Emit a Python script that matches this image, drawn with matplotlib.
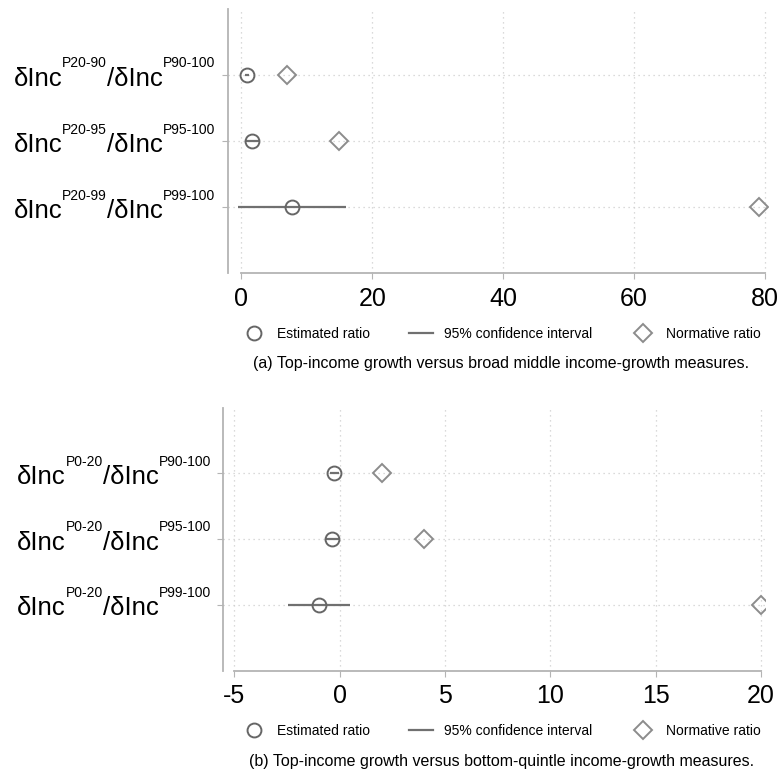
import matplotlib
matplotlib.use('Agg')
from matplotlib import pyplot as plt
from matplotlib.lines import Line2D
from matplotlib.transforms import offset_copy, blended_transform_factory

plt.rcParams['font.family'] = ['Liberation Sans', 'DejaVu Sans']

rows = [1, 2, 3]

# panel (a): P20-xx middle vs top groups
num_a = ['P20-90', 'P20-95', 'P20-99']
den_a = ['P90-100', 'P95-100', 'P99-100']
est_a = [0.85, 1.7, 7.7]
lo_a = [0.5, 0.75, -0.5]
hi_a = [1.2, 2.8, 16.0]
norm_a = [7, 15, 79]
xticks_a = [0, 20, 40, 60, 80]

# panel (b): bottom quintile vs top groups
num_b = ['P0-20', 'P0-20', 'P0-20']
den_b = ['P90-100', 'P95-100', 'P99-100']
est_b = [-0.25, -0.35, -1.0]
lo_b = [-0.45, -0.7, -2.45]
hi_b = [-0.05, 0.0, 0.5]
norm_b = [2, 4, 20]
xticks_b = [-5, 0, 5, 10, 15, 20]

leg_labels = ['Estimated ratio', '95% confidence interval', 'Normative ratio']

C_EST = '#666666'
C_CI = '#707070'
C_NORM = '#8c8c8c'
C_AX = '#b4b4b4'

fig = plt.figure(figsize=(7.8, 7.73), dpi=100)
renderer = fig.canvas.get_renderer()


def ratio_label(ax, y, num, den):
    # δInc^num / δInc^den, built right to left from the axis
    base = blended_transform_factory(ax.transAxes, ax.transData)
    parts = [('δInc', 18.5, 0), (num, 10, 13), ('/δInc', 18.5, 0), (den, 10, 13)]
    x = -9
    for txt, size, rise in reversed(parts):
        t = ax.text(0, y, txt, fontsize=size, ha='right', va='baseline',
                    transform=offset_copy(base, fig=fig, x=x, y=-7.5 + rise, units='points'))
        x -= t.get_window_extent(renderer).width * 72 / fig.dpi


def panel(rect, est, lo, hi, norm, num, den, xticks, xlim, leg_y, caption, cap_y):
    ax = fig.add_axes(rect)
    ax.hlines(rows, lo, hi, color=C_CI, lw=1.6, zorder=3)
    ax.plot(est, rows, 'o', ls='none', mfc='none', mec=C_EST, ms=10, mew=1.4, zorder=4)
    ax.plot(norm, rows, 'D', ls='none', mfc='none', mec=C_NORM, ms=9, mew=1.4, zorder=4)

    ax.set_xlim(*xlim)
    ax.set_ylim(4, 0)
    ax.set_xticks(xticks)
    ax.set_xticklabels([str(v) for v in xticks], fontsize=18)
    ax.set_yticks(rows)
    ax.tick_params(axis='y', length=4.5, color=C_AX, labelleft=False)
    ax.tick_params(axis='x', length=4.5, color=C_AX, pad=5)
    ax.grid(True, linestyle=(0, (1, 3)), color='#cfcfcf', lw=0.9)
    ax.set_axisbelow(True)
    for s in ['top', 'right']:
        ax.spines[s].set_visible(False)
    for s in ['left', 'bottom']:
        ax.spines[s].set_color(C_AX)
        ax.spines[s].set_linewidth(1.3)
    ax.spines['bottom'].set_bounds(xticks[0], xticks[-1])

    for r, n, d in zip(rows, num, den):
        ratio_label(ax, r, n, d)

    handles = [
        Line2D([], [], marker='o', ls='none', mfc='none', mec=C_EST, ms=10, mew=1.4),
        Line2D([], [], color=C_CI, lw=1.6),
        Line2D([], [], marker='D', ls='none', mfc='none', mec=C_NORM, ms=9, mew=1.4),
    ]
    ax.legend(handles, leg_labels, loc='center', bbox_to_anchor=(0.643, leg_y),
              bbox_transform=fig.transFigure, ncol=3, frameon=False, fontsize=10,
              handlelength=1.7, handletextpad=0.8, columnspacing=2.8)
    fig.text(0.643, cap_y, caption, ha='center', va='center', fontsize=11.5)
    return ax


panel([0.2917, 0.6462, 0.693, 0.3422], est_a, lo_a, hi_a, norm_a, num_a, den_a,
      xticks_a, (-2.1, 80.46), 0.568,
      '(a) Top-income growth versus broad middle income-growth measures.', 0.5304)
panel([0.2863, 0.1323, 0.6945, 0.3405], est_b, lo_b, hi_b, norm_b, num_b, den_b,
      xticks_b, (-5.52, 20.2), 0.0543,
      '(b) Top-income growth versus bottom-quintle income-growth measures.', 0.0155)

fig.savefig('out.png', dpi=100)
